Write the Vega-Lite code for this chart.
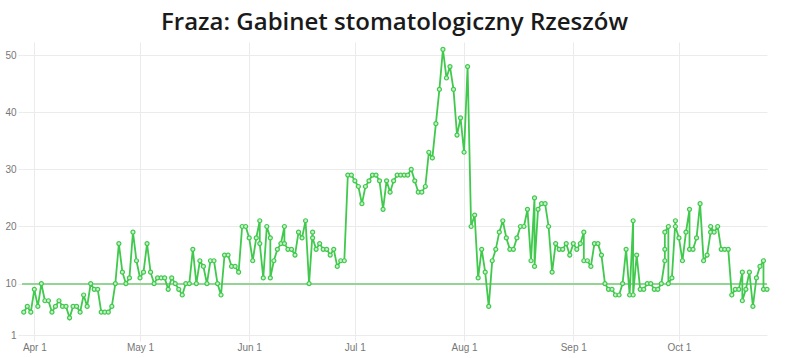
{
  "$schema": "https://vega.github.io/schema/vega-lite/v6.json",
  "width": 745,
  "height": 293,
  "autosize": {"type": "none"},
  "padding": {"left": 22, "top": 42, "right": 23, "bottom": 23},
  "background": "white",
  "title": {"text": "Fraza: Gabinet stomatologiczny Rzeszów", "font": "Open Sans", "fontSize": 24, "fontWeight": 600, "color": "#1a1a1a", "anchor": "middle", "offset": 7},
  "config": {"view": {"stroke": null}},
  "data": {
    "format": {"parse": {"d": "date:'%Y-%m-%d'"}},
    "values": [
      {"d":"2021-03-29","v":5},{"d":"2021-03-30","v":6},{"d":"2021-03-31","v":5},
      {"d":"2021-04-01","v":9},{"d":"2021-04-02","v":6},{"d":"2021-04-03","v":10},{"d":"2021-04-04","v":7},{"d":"2021-04-05","v":7},
      {"d":"2021-04-06","v":5},{"d":"2021-04-07","v":6},{"d":"2021-04-08","v":7},{"d":"2021-04-09","v":6},{"d":"2021-04-10","v":6},
      {"d":"2021-04-11","v":4},{"d":"2021-04-12","v":6},{"d":"2021-04-13","v":6},{"d":"2021-04-14","v":5},{"d":"2021-04-15","v":8},
      {"d":"2021-04-16","v":6},{"d":"2021-04-17","v":10},{"d":"2021-04-18","v":9},{"d":"2021-04-19","v":9},{"d":"2021-04-20","v":5},
      {"d":"2021-04-21","v":5},{"d":"2021-04-22","v":5},{"d":"2021-04-23","v":6},{"d":"2021-04-24","v":10},{"d":"2021-04-25","v":17},
      {"d":"2021-04-26","v":12},{"d":"2021-04-27","v":10},{"d":"2021-04-28","v":11},{"d":"2021-04-29","v":19},{"d":"2021-04-30","v":14},
      {"d":"2021-05-01","v":11},{"d":"2021-05-02","v":12},{"d":"2021-05-03","v":17},{"d":"2021-05-04","v":12},{"d":"2021-05-05","v":10},
      {"d":"2021-05-06","v":11},{"d":"2021-05-07","v":11},{"d":"2021-05-08","v":11},{"d":"2021-05-09","v":9},{"d":"2021-05-10","v":11},
      {"d":"2021-05-11","v":10},{"d":"2021-05-12","v":9},{"d":"2021-05-13","v":8},{"d":"2021-05-14","v":10},{"d":"2021-05-15","v":10},
      {"d":"2021-05-16","v":16},{"d":"2021-05-17","v":10},{"d":"2021-05-18","v":14},{"d":"2021-05-19","v":13},{"d":"2021-05-20","v":10},
      {"d":"2021-05-21","v":14},{"d":"2021-05-22","v":14},{"d":"2021-05-23","v":10},{"d":"2021-05-24","v":8},{"d":"2021-05-25","v":15},
      {"d":"2021-05-26","v":15},{"d":"2021-05-27","v":13},{"d":"2021-05-28","v":13},{"d":"2021-05-29","v":12},{"d":"2021-05-30","v":20},
      {"d":"2021-05-31","v":20},{"d":"2021-06-01","v":18},{"d":"2021-06-02","v":14},{"d":"2021-06-03","v":18},{"d":"2021-06-04","v":21},
      {"d":"2021-06-04","v":17},{"d":"2021-06-05","v":11},{"d":"2021-06-06","v":20},{"d":"2021-06-07","v":18},{"d":"2021-06-07","v":11},
      {"d":"2021-06-08","v":14},{"d":"2021-06-09","v":16},{"d":"2021-06-10","v":17},{"d":"2021-06-11","v":20},{"d":"2021-06-11","v":17},
      {"d":"2021-06-12","v":16},{"d":"2021-06-13","v":16},{"d":"2021-06-14","v":15},{"d":"2021-06-15","v":19},{"d":"2021-06-16","v":18},
      {"d":"2021-06-17","v":21},{"d":"2021-06-18","v":10},{"d":"2021-06-19","v":19},{"d":"2021-06-19","v":18},{"d":"2021-06-20","v":16},
      {"d":"2021-06-21","v":17},{"d":"2021-06-22","v":16},{"d":"2021-06-23","v":16},{"d":"2021-06-24","v":15},{"d":"2021-06-25","v":16},
      {"d":"2021-06-26","v":13},{"d":"2021-06-27","v":14},{"d":"2021-06-28","v":14},{"d":"2021-06-29","v":29},{"d":"2021-06-30","v":29},
      {"d":"2021-07-01","v":28},{"d":"2021-07-02","v":27},{"d":"2021-07-03","v":24},{"d":"2021-07-04","v":27},{"d":"2021-07-05","v":28},
      {"d":"2021-07-06","v":29},{"d":"2021-07-07","v":29},{"d":"2021-07-08","v":28},{"d":"2021-07-09","v":23},{"d":"2021-07-10","v":28},
      {"d":"2021-07-11","v":26},{"d":"2021-07-12","v":28},{"d":"2021-07-13","v":29},{"d":"2021-07-14","v":29},{"d":"2021-07-15","v":29},
      {"d":"2021-07-16","v":29},{"d":"2021-07-17","v":30},{"d":"2021-07-18","v":28},{"d":"2021-07-19","v":26},{"d":"2021-07-20","v":26},
      {"d":"2021-07-21","v":27},{"d":"2021-07-22","v":33},{"d":"2021-07-23","v":32},{"d":"2021-07-24","v":38},{"d":"2021-07-25","v":44},
      {"d":"2021-07-26","v":51},{"d":"2021-07-27","v":46},{"d":"2021-07-28","v":48},{"d":"2021-07-29","v":44},{"d":"2021-07-30","v":36},
      {"d":"2021-07-31","v":39},{"d":"2021-08-01","v":33},{"d":"2021-08-02","v":48},{"d":"2021-08-03","v":20},{"d":"2021-08-04","v":22},
      {"d":"2021-08-05","v":11},{"d":"2021-08-06","v":16},{"d":"2021-08-07","v":12},{"d":"2021-08-08","v":6},{"d":"2021-08-09","v":14},
      {"d":"2021-08-10","v":16},{"d":"2021-08-11","v":19},{"d":"2021-08-12","v":21},{"d":"2021-08-13","v":18},{"d":"2021-08-14","v":16},
      {"d":"2021-08-15","v":16},{"d":"2021-08-16","v":18},{"d":"2021-08-17","v":20},{"d":"2021-08-18","v":20},{"d":"2021-08-19","v":23},
      {"d":"2021-08-20","v":14},{"d":"2021-08-21","v":25},{"d":"2021-08-21","v":13},{"d":"2021-08-22","v":23},{"d":"2021-08-23","v":24},
      {"d":"2021-08-24","v":24},{"d":"2021-08-25","v":20},{"d":"2021-08-26","v":12},{"d":"2021-08-27","v":17},{"d":"2021-08-28","v":16},
      {"d":"2021-08-29","v":16},{"d":"2021-08-30","v":17},{"d":"2021-08-31","v":15},{"d":"2021-09-01","v":17},{"d":"2021-09-02","v":16},
      {"d":"2021-09-03","v":17},{"d":"2021-09-04","v":19},{"d":"2021-09-04","v":14},{"d":"2021-09-05","v":14},{"d":"2021-09-06","v":13},
      {"d":"2021-09-07","v":17},{"d":"2021-09-08","v":17},{"d":"2021-09-09","v":15},{"d":"2021-09-10","v":10},{"d":"2021-09-11","v":9},
      {"d":"2021-09-12","v":9},{"d":"2021-09-13","v":8},{"d":"2021-09-14","v":8},{"d":"2021-09-15","v":10},{"d":"2021-09-16","v":16},
      {"d":"2021-09-17","v":8},{"d":"2021-09-18","v":21},{"d":"2021-09-18","v":8},{"d":"2021-09-19","v":15},{"d":"2021-09-20","v":9},
      {"d":"2021-09-21","v":9},{"d":"2021-09-22","v":10},{"d":"2021-09-23","v":10},{"d":"2021-09-24","v":9},{"d":"2021-09-25","v":9},
      {"d":"2021-09-26","v":10},{"d":"2021-09-27","v":14},{"d":"2021-09-27","v":16},{"d":"2021-09-27","v":19},{"d":"2021-09-28","v":20},
      {"d":"2021-09-28","v":10},{"d":"2021-09-29","v":11},{"d":"2021-09-30","v":21},{"d":"2021-09-30","v":20},{"d":"2021-10-01","v":18},
      {"d":"2021-10-02","v":14},{"d":"2021-10-03","v":19},{"d":"2021-10-04","v":23},{"d":"2021-10-04","v":16},{"d":"2021-10-05","v":16},
      {"d":"2021-10-06","v":18},{"d":"2021-10-07","v":24},{"d":"2021-10-08","v":14},{"d":"2021-10-09","v":15},{"d":"2021-10-10","v":19},
      {"d":"2021-10-10","v":20},{"d":"2021-10-11","v":19},{"d":"2021-10-12","v":20},{"d":"2021-10-13","v":16},{"d":"2021-10-14","v":16},
      {"d":"2021-10-15","v":16},{"d":"2021-10-16","v":8},{"d":"2021-10-17","v":9},{"d":"2021-10-18","v":9},{"d":"2021-10-19","v":12},
      {"d":"2021-10-19","v":7},{"d":"2021-10-20","v":9},{"d":"2021-10-21","v":12},{"d":"2021-10-22","v":6},{"d":"2021-10-23","v":11},
      {"d":"2021-10-24","v":13},{"d":"2021-10-25","v":14},{"d":"2021-10-25","v":9},{"d":"2021-10-26","v":9}
    ]
  },
  "layer": [
    {
      "mark": {"type": "rule", "color": "#93d393", "strokeWidth": 1.2},
      "encoding": {"y": {"datum": 10, "type": "quantitative"}}
    },
    {
      "mark": {"type": "line", "color": "#40c94c", "strokeWidth": 1.8,
        "point": {"filled": true, "shape": "circle", "size": 16, "fill": "#c8efcb", "stroke": "#40c94c", "strokeWidth": 1.2}},
      "encoding": {
        "x": {"field": "d", "type": "temporal",
          "scale": {"domain": [{"year": 2021, "month": "mar", "date": 28, "hours": 12}, {"year": 2021, "month": "oct", "date": 26}]},
          "axis": {"title": null, "format": "%b %-d", "tickCount": {"interval": "month", "step": 1}, "grid": true,
            "gridColor": "#ebebeb", "tickColor": "#ebebeb", "tickSize": 6, "domain": false,
            "labelColor": "#777777", "labelFont": "Liberation Sans", "labelFontSize": 10, "labelPadding": 1}},
        "y": {"field": "v", "type": "quantitative",
          "scale": {"domain": [1, 52.3], "nice": false, "zero": false},
          "axis": {"title": null, "values": [1, 5, 10, 15, 20, 25, 30, 35, 40, 45, 50], "grid": true,
            "gridColor": "#ebebeb", "tickColor": "#ebebeb", "tickSize": 4, "domain": false,
            "labelColor": "#777777", "labelFont": "Liberation Sans", "labelFontSize": 10, "labelPadding": 2}}
      }
    }
  ]
}
